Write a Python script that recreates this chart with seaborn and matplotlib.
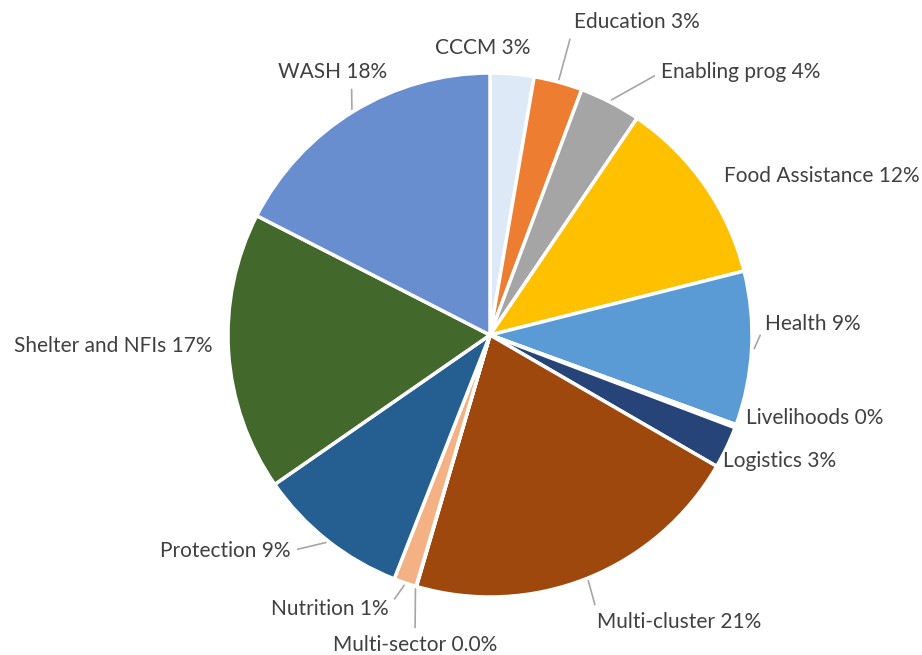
# ============================================================
# Funding by Cluster - Pie Chart
# ============================================================

import numpy as np
import matplotlib.pyplot as plt
import seaborn as sns

# ============================================================
# Data
# ============================================================

clusters = [
    "CCCM", "Education", "Enabling prog", "Food Assistance", "Health",
    "Livelihoods", "Logistics", "Multi-cluster", "Multi-sector",
    "Nutrition", "Protection", "Shelter and NFIs", "WASH"
]
shares = [2.7, 3.0, 3.8, 11.6, 9.5, 0.2, 2.6, 21.2, 0.03, 1.4, 9.4, 17.2, 17.5]
pct_labels = ["3%", "3%", "4%", "12%", "9%", "0%", "3%", "21%", "0.0%",
              "1%", "9%", "17%", "18%"]

colors = [
    "#DDE9F6", "#ED7D31", "#A5A5A5", "#FFC000", "#5B9BD5", "#70AD47",
    "#264478", "#9E480E", "#636363", "#F4B183", "#255E91", "#43682B",
    "#698ED0"
]

# label text centre (figure pixels from top-left)
label_px = [
    (483, 48), (637, 22), (741, 72), (822, 176), (813, 324),
    (815, 418), (780, 461), (679, 622), (415, 645), (330, 609),
    (225, 551), (113, 346), (333, 72)
]
# where the leader line meets the label box (None = no leader)
leader_relpos = [None, (0, 0.4), (0, 0.5), None, (0, 0.5), None, None,
                 (0, 1), (0.5, 1), (1, 0.6), (1, 0.5), None, (0.67, 0)]

# ============================================================
# Figure
# ============================================================

sns.set_theme(style="white")
plt.rcParams["font.family"] = ["Lato", "DejaVu Sans"]

W, H = 922, 655
fig = plt.figure(figsize=(W / 100, H / 100), dpi=100)
fig.patch.set_facecolor("white")

cx, cy, r = 490, 335, 262
ax = fig.add_axes([(cx - r) / W, (H - cy - r) / H, 2 * r / W, 2 * r / H])

wedges, _ = ax.pie(
    shares,
    colors=colors,
    startangle=90,
    counterclock=False,
    radius=1.0,
    wedgeprops=dict(edgecolor="white", linewidth=2.5),
)
ax.set_xlim(-1, 1)
ax.set_ylim(-1, 1)
ax.axis("off")

# ============================================================
# Labels
# ============================================================

for w, name, pct, (px, py), rel in zip(wedges, clusters, pct_labels,
                                        label_px, leader_relpos):
    mid = np.deg2rad((w.theta1 + w.theta2) / 2)
    edge = (1.01 * np.cos(mid), 1.01 * np.sin(mid))
    arrow = None
    if rel is not None:
        arrow = dict(arrowstyle="-", color="#A6A6A6", lw=1.2,
                     shrinkA=3, shrinkB=0, relpos=rel)
    ax.annotate(
        f"{name} {pct}",
        xy=edge,
        xycoords="data",
        xytext=(px, H - py),
        textcoords="figure pixels",
        ha="center",
        va="center",
        fontsize=15,
        color="#404040",
        annotation_clip=False,
        arrowprops=arrow,
    )

plt.savefig("out.png", dpi=100, facecolor="white")
plt.close()
